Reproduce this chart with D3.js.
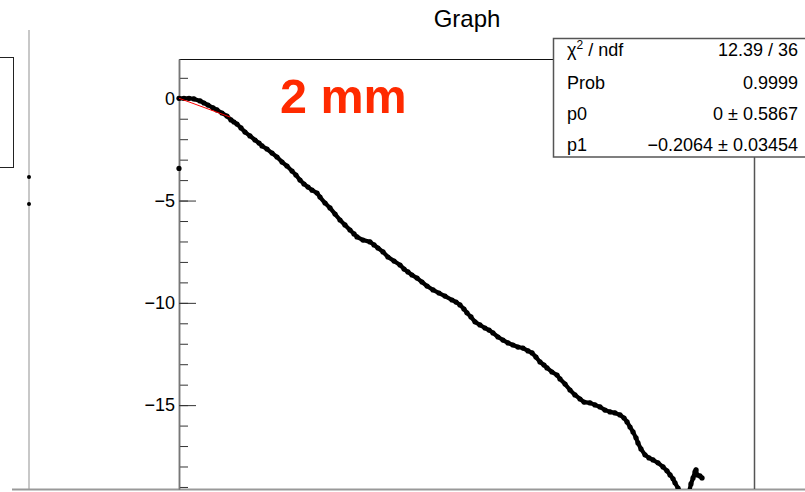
<!DOCTYPE html>
<html>
<head>
<meta charset="utf-8">
<script src="https://cdn.jsdelivr.net/npm/d3@7"></script>
<style>
  html, body { margin: 0; padding: 0; background: #fff; }
  svg { display: block; font-family: "Liberation Sans", Arial, Helvetica, sans-serif; }
</style>
</head>
<body>
<svg id="c" width="805" height="492"></svg>
<script>
// Measured displacement vs. position, as [x, y]
const points = [
  [0, 0], [0.43, 0], [0.87, 0], [1.30, -0.03], [1.83, -0.13], [2.17, -0.23], [2.52, -0.33], [2.96, -0.47],
  [3.30, -0.57], [3.74, -0.72], [4.17, -0.87], [4.52, -1.06], [4.78, -1.16], [5.04, -1.26], [5.39, -1.45],
  [5.74, -1.65], [6.17, -1.84], [6.61, -2.04], [6.96, -2.19], [7.22, -2.33], [7.65, -2.48], [8.09, -2.68],
  [8.52, -2.87], [8.96, -3.12], [9.39, -3.31], [9.83, -3.56], [10.17, -3.75], [10.52, -4.0], [10.87, -4.19],
  [11.22, -4.34], [11.57, -4.49], [12.0, -4.63], [12.26, -4.83], [12.70, -5.12], [13.13, -5.36], [13.57, -5.66],
  [14.0, -5.95], [14.43, -6.19], [14.87, -6.44], [15.22, -6.63], [15.48, -6.78], [16.0, -6.93], [16.61, -7.02],
  [16.96, -7.17], [17.30, -7.32], [17.74, -7.51], [18.17, -7.76], [18.70, -7.96], [19.22, -8.15], [19.57, -8.35],
  [19.91, -8.49], [20.26, -8.64], [20.70, -8.79], [21.13, -8.98], [21.57, -9.18], [22.09, -9.37], [22.61, -9.52],
  [23.13, -9.67], [23.74, -9.86], [24.09, -9.96], [24.43, -10.1], [24.78, -10.3], [25.04, -10.49], [25.39, -10.69],
  [25.74, -10.93], [26.17, -11.08], [26.61, -11.23], [26.96, -11.33], [27.30, -11.47], [27.74, -11.67],
  [28.17, -11.82], [28.61, -11.96], [29.04, -12.06], [29.48, -12.16], [29.91, -12.21], [30.35, -12.35],
  [30.70, -12.45], [31.04, -12.65], [31.39, -12.89], [31.74, -13.04], [32.0, -13.18], [32.43, -13.38],
  [32.87, -13.53], [33.13, -13.72], [33.57, -13.97], [34.0, -14.26], [34.43, -14.5], [34.87, -14.7],
  [35.22, -14.85], [35.74, -14.89], [36.17, -14.99], [36.61, -15.09], [37.04, -15.24], [37.48, -15.33],
  [37.91, -15.38], [38.35, -15.48], [38.70, -15.63], [38.96, -15.82], [39.22, -16.07], [39.48, -16.31],
  [39.74, -16.6], [39.91, -16.85], [40.17, -17.14], [40.52, -17.43], [40.87, -17.58], [41.22, -17.68],
  [41.65, -17.82], [42.09, -18.02], [42.43, -18.21], [42.70, -18.41], [42.96, -18.6], [43.13, -18.8],
  [43.39, -19.05], [43.57, -19.24], [44.35, -19.24], [44.52, -18.85], [44.70, -18.56], [44.87, -18.26],
  [44.96, -18.16], [45.04, -18.41], [45.30, -18.46], [45.48, -18.56]
];
// Isolated reading at the start
const outliers = [[0, -3.43]];

// Linear fit y = p0 + p1 * x over the first few mm
const p0 = 0, p1 = -0.2064;
const fitRange = [0, 4.45];

// Fit statistics box
const statNames = ["χ² / ndf", "Prob", "p0", "p1"];
const statValues = ["12.39 / 36", "0.9999", "0 ± 0.5867", "−0.2064 ± 0.03454"];

// Axis ticks
const yMajor = [-15, -10, -5, 0];
const yMinor = d3.range(-19, 2);

// Points of the neighbouring pad visible at the left edge
const leftPadY = [-3.85, -5.17];

const title = "Graph";
const label = "2 mm";

const svg = d3.select("#c");
const frame = { left: 179, right: 754, top: 59, bottom: 489 };

const x = d3.scaleLinear().domain([0, 50]).range([frame.left, frame.right]);
const y = d3.scaleLinear().domain([-19.1, 1.92]).range([frame.bottom, frame.top]);

// Neighbouring pad: its frame and stats box, mostly outside the view
svg.append("line").attr("x1", 29).attr("x2", 29).attr("y1", 30).attr("y2", frame.bottom)
  .attr("stroke", "#c8c8c8").attr("stroke-width", 2);
svg.append("rect").attr("x", -40).attr("y", 57.5).attr("width", 53.5).attr("height", 110)
  .attr("fill", "#fff").attr("stroke", "#222").attr("stroke-width", 1);
svg.selectAll("circle.lp").data(leftPadY).join("circle").attr("class", "lp")
  .attr("cx", 29).attr("cy", d => y(d)).attr("r", 2).attr("fill", "#000");

// Canvas bottom edge
svg.append("line").attr("x1", 12).attr("x2", 805).attr("y1", frame.bottom + 0.5).attr("y2", frame.bottom + 0.5)
  .attr("stroke", "#999").attr("stroke-width", 2);

// Frame top and right edges
svg.append("line").attr("x1", frame.left).attr("x2", frame.right).attr("y1", frame.top + 0.5).attr("y2", frame.top + 0.5)
  .attr("stroke", "#111").attr("stroke-width", 1);
svg.append("line").attr("x1", frame.right + 0.5).attr("x2", frame.right + 0.5).attr("y1", frame.top).attr("y2", frame.bottom)
  .attr("stroke", "#555").attr("stroke-width", 1.5);

// Y axis: major and minor ticks pointing into the frame
const gMinor = svg.append("g").attr("transform", `translate(${frame.left},0)`)
  .call(d3.axisLeft(y).tickValues(yMinor).tickSize(-9).tickSizeOuter(0).tickFormat(""));
const gMajor = svg.append("g").attr("transform", `translate(${frame.left},0)`)
  .call(d3.axisLeft(y).tickValues(yMajor).tickSize(-17).tickSizeOuter(0).tickPadding(4).tickFormat(d3.format("d")));
[gMinor, gMajor].forEach(g => {
  g.select(".domain").attr("stroke", "#777").attr("stroke-width", 1.5);
  g.selectAll(".tick line").attr("stroke", "#333").attr("stroke-width", 1);
});
gMajor.selectAll(".tick text").attr("font-size", 18).attr("fill", "#000")
  .attr("font-family", "'Liberation Sans', Arial, sans-serif");

// Plot area clip
svg.append("clipPath").attr("id", "clip").append("rect")
  .attr("x", frame.left - 3).attr("y", frame.top).attr("width", frame.right - frame.left + 3)
  .attr("height", frame.bottom - frame.top);

const plot = svg.append("g").attr("clip-path", "url(#clip)");

// Densely packed markers read as a thick trace
plot.append("path").datum(points)
  .attr("d", d3.line().x(d => x(d[0])).y(d => y(d[1])))
  .attr("fill", "none").attr("stroke", "#000").attr("stroke-width", 4.2)
  .attr("stroke-linejoin", "round").attr("stroke-linecap", "round");
plot.selectAll("circle.pt").data(points.concat(outliers)).join("circle").attr("class", "pt")
  .attr("cx", d => x(d[0])).attr("cy", d => y(d[1])).attr("r", 2.6).attr("fill", "#000");

// Fit line
plot.append("line")
  .attr("x1", x(fitRange[0])).attr("y1", y(p0 + p1 * fitRange[0]))
  .attr("x2", x(fitRange[1])).attr("y2", y(p0 + p1 * fitRange[1]))
  .attr("stroke", "#ff0000").attr("stroke-width", 1);

// Title
svg.append("text").attr("x", 467).attr("y", 27).attr("text-anchor", "middle")
  .attr("font-size", 24).attr("fill", "#000").text(title);

// Annotation
svg.append("text").attr("x", 280).attr("y", 113).attr("font-size", 48.5).attr("font-weight", "bold")
  .attr("fill", "#ff2a00").text(label);

// Stats box
const box = { x: 553.5, y: 38.5, w: 260, h: 118.5 };
svg.append("rect").attr("x", box.x).attr("y", box.y).attr("width", box.w).attr("height", box.h)
  .attr("fill", "#fff").attr("stroke", "#555").attr("stroke-width", 1.5);
const rowY = [56, 89, 120, 151];
statNames.forEach((n, i) => {
  const t = svg.append("text").attr("x", 567).attr("y", rowY[i]).attr("font-size", 18).attr("fill", "#000");
  if (n.startsWith("χ²")) {
    t.append("tspan").text("χ");
    t.append("tspan").attr("font-size", 12).attr("dy", -7).text("2");
    t.append("tspan").attr("dy", 7).text(" / ndf");
  } else {
    t.text(n);
  }
  svg.append("text").attr("x", 798).attr("y", rowY[i]).attr("text-anchor", "end")
    .attr("font-size", 18).attr("fill", "#000").attr("xml:space", "preserve").text(statValues[i]);
});
</script>
</body>
</html>
